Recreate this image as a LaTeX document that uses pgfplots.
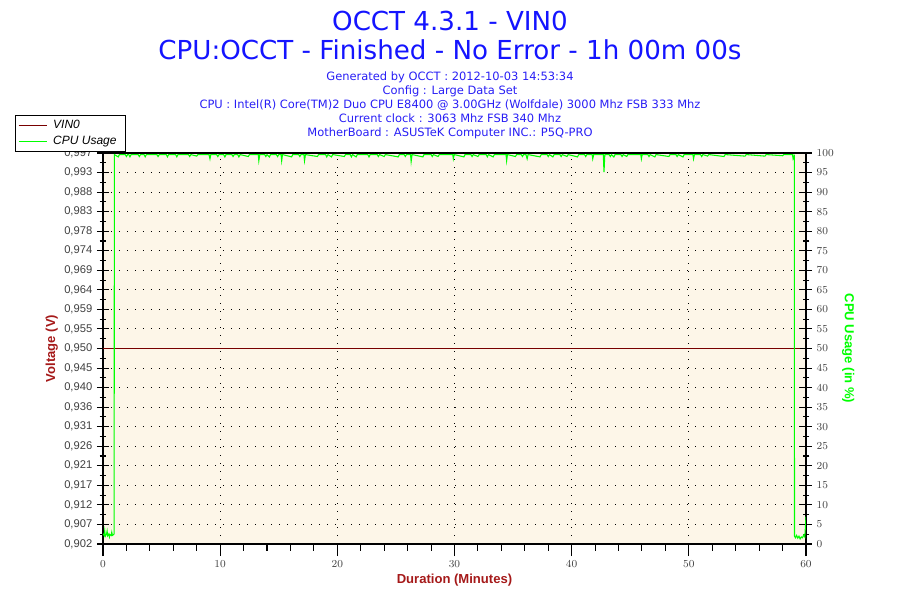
\documentclass[border=0pt]{standalone}
\usepackage{fontspec}
\setmainfont{DejaVu Sans}
\newfontfamily\tickfont{Liberation Sans}
\usepackage{pgfplots}
\pgfplotsset{compat=1.18}

\definecolor{ttl}{RGB}{20,20,255}
\definecolor{info}{RGB}{40,30,245}
\definecolor{volt}{RGB}{120,0,0}
\definecolor{vlab}{RGB}{165,25,25}
\definecolor{cpu}{RGB}{0,255,0}
\definecolor{bg}{RGB}{253,246,232}

\begin{document}
\begin{tikzpicture}
\path[use as bounding box] (-77.25pt,-42pt) rectangle (597.75pt,408pt);

% voltage axis (left)
\begin{axis}[
  scale only axis, width=527.25pt, height=293.25pt,
  at={(0pt,0pt)}, anchor=south west,
  xmin=0, xmax=60,
  ymin=0.9025, ymax=0.9975,
  axis background/.style={fill=bg},
  axis line style={black, line width=0.8pt},
  xtick={0,10,20,30,40,50,60}, minor x tick num=4,
  ytick={0.9025,0.90725,0.912,0.91675,0.9215,0.92625,0.931,0.93575,0.9405,0.94525,0.95,0.95475,0.9595,0.96425,0.969,0.97375,0.9785,0.98325,0.988,0.99275,0.9975},
  yticklabels={{0,902},{0,907},{0,912},{0,917},{0,921},{0,926},{0,931},{0,936},{0,940},{0,945},{0,950},{0,955},{0,959},{0,964},{0,969},{0,974},{0,978},{0,983},{0,988},{0,993},{0,997}},
  minor y tick num=1,
  xtick pos=bottom, ytick pos=left,
  xtick align=outside, ytick align=center,
  major tick length=9pt, minor tick length=5pt,
  tick style={black, line width=0.8pt},
  grid=major,
  major grid style={black, line width=0.75pt, dash pattern=on 0.75pt off 5.25pt},
  ticklabel style={font=\tickfont\fontsize{8.4}{9}\selectfont, text=black!75},
  xlabel={Duration (Minutes)},
  ylabel={Voltage (V)},
  xlabel style={at={(axis description cs:0.5,-0.092)}, anchor=center,
    font=\tickfont\bfseries\fontsize{9.8}{11}\selectfont, text=vlab},
  ylabel style={at={(axis description cs:-0.073,0.5)}, anchor=center,
    font=\tickfont\bfseries\fontsize{9.8}{11}\selectfont, text=vlab},
]
\addplot[volt, line width=0.75pt] coordinates {(0,0.950) (60,0.950)};
\end{axis}

% CPU usage axis (right)
\begin{axis}[
  scale only axis, width=527.25pt, height=293.25pt,
  at={(0pt,0pt)}, anchor=south west,
  xmin=0, xmax=60, ymin=0, ymax=100,
  axis x line=none, axis y line*=right,
  axis line style={black, line width=0.8pt},
  ytick={0,5,...,100}, minor y tick num=1,
  ytick align=center,
  major tick length=9pt, minor tick length=5pt,
  tick style={black, line width=0.8pt},
  yticklabel style={font=\tickfont\fontsize{8.4}{9}\selectfont, text=black!75},
  ylabel={CPU Usage (in \%)},
  ylabel style={at={(axis description cs:1.06,0.5)}, anchor=center, rotate=180,
    font=\tickfont\bfseries\fontsize{9.8}{11}\selectfont, text=cpu},
  legend style={at={(axis description cs:-0.1252,1.0972)}, anchor=north west,
    draw=black, line width=0.8pt, fill=white,
    font=\tickfont\itshape\fontsize{9}{10}\selectfont,
    inner xsep=2pt, inner ysep=1.5pt, row sep=0.5pt,
    nodes={inner xsep=4.5pt}},
  legend cell align=left,
  legend image code/.code={\draw[#1, line width=0.75pt] (0pt,0pt) -- (21pt,0pt);},
]
\addlegendimage{volt}
\addlegendentry{VIN0}
\addplot[cpu, line width=0.8pt] coordinates {
(0,2.6)(0.1,2.2)(0.15,3.4)(0.2,2.0)(0.3,2.5)(0.35,3.3)(0.4,2.1)(0.5,2.6)(0.55,1.8)(0.6,2.4)(0.7,2.2)(0.75,3.0)(0.8,2.2)(0.9,2.4)(0.95,2.6)
(0.97,99.6)(1.3,99.0)(1.4,99.6)(1.9,99.6)(2.0,99.1)(2.1,99.6)(2.2,99.6)(2.3,99.0)(2.4,99.6)(3.0,99.6)(3.1,99.1)(3.2,99.6)(3.5,99.6)(3.6,99.0)(3.7,99.6)(4.6,99.6)(4.7,99.1)(4.8,99.6)
(5.4,99.6)(5.5,99.0)(5.6,99.6)(6.2,99.6)(6.3,99.0)(6.4,99.6)(7.3,99.6)(7.4,99.1)(7.5,99.6)(8.0,99.2)(8.1,99.6)(9.05,99.6)(9.13,98.5)(9.2,99.6)
(9.7,99.6)(9.8,99.1)(9.9,99.6)(10.3,99.6)(10.4,99.0)(10.5,99.6)(11.0,99.6)(11.1,99.1)(11.2,99.6)(11.5,99.6)(11.6,99.0)(11.7,99.6)(12.4,99.1)(12.5,99.6)(13.25,99.6)(13.3,98.0)(13.38,99.6)
(13.8,99.6)(13.9,99.1)(14.0,99.6)(14.2,99.0)(14.3,99.6)(14.8,99.6)(14.9,99.1)(15.0,99.6)(15.2,99.6)(15.25,98.0)(15.32,99.6)(16.1,99.0)(16.2,99.6)(16.7,99.6)(16.8,99.1)(16.9,99.6)(17.15,99.6)(17.2,98.0)(17.28,99.6)
(18.3,99.1)(18.4,99.6)(19.0,99.6)(19.1,99.0)(19.2,99.6)(19.5,99.0)(19.6,99.6)(20.6,99.1)(20.7,99.6)(21.1,99.6)(21.2,99.0)(21.3,99.6)(21.6,99.0)(21.7,99.6)(22.6,99.6)(22.7,99.0)(22.8,99.6)
(23.4,99.6)(23.5,99.1)(23.6,99.6)(24.0,99.1)(24.1,99.6)(25.2,99.0)(25.3,99.6)(25.7,99.6)(25.8,99.1)(25.9,99.6)(26.25,99.6)(26.3,97.8)(26.38,99.6)(27.3,99.0)(27.4,99.6)(28.0,99.6)(28.1,99.1)(28.2,99.6)(28.6,99.1)(28.7,99.6)
(29.85,99.6)(29.9,98.5)(29.98,99.6)(30.8,99.0)(30.9,99.6)(31.4,99.6)(31.5,99.1)(31.6,99.6)(32.0,99.1)(32.1,99.6)(32.7,99.6)(32.8,99.0)(32.9,99.6)(33.3,99.0)(33.4,99.6)
(34.4,99.6)(34.45,98.0)(34.52,99.6)(35.2,99.1)(35.3,99.6)(35.7,99.6)(35.8,99.1)(35.9,99.6)(36.1,99.6)(36.2,98.5)(36.28,99.6)(37.3,99.0)(37.4,99.6)(37.9,99.6)(38.0,99.1)(38.1,99.6)
(38.4,99.0)(38.5,99.6)(39.0,99.6)(39.1,99.1)(39.2,99.6)(39.6,99.1)(39.7,99.6)(40.5,99.0)(40.6,99.6)(41.1,99.6)(41.2,99.1)(41.3,99.6)(41.75,99.6)(41.8,98.5)(41.88,99.6)
(42.7,99.6)(42.76,95.1)(42.83,99.6)(43.2,99.6)(43.3,99.1)(43.4,99.6)(43.6,99.0)(43.7,99.6)(44.2,99.6)(44.3,99.1)(44.4,99.6)(44.7,99.1)(44.8,99.6)(45.9,99.6)(45.95,98.5)(46.02,99.6)
(46.5,99.6)(46.6,99.1)(46.7,99.6)(47.1,99.0)(47.2,99.6)(48.3,99.1)(48.4,99.6)(48.9,99.6)(49.0,99.1)(49.1,99.6)(49.5,99.0)(49.6,99.6)(50.35,99.6)(50.4,98.5)(50.48,99.6)
(51.0,99.6)(51.1,99.1)(51.2,99.6)(51.6,99.2)(51.7,99.6)(53.0,99.1)(53.1,99.6)(54.8,99.2)(54.9,99.6)(56.5,99.2)(56.6,99.6)(58.0,99.3)(58.1,99.6)
(58.85,99.6)(58.9,98.5)(58.97,99.0)(59.0,99.6)
(59.02,2.0)(59.1,1.6)(59.2,2.2)(59.3,1.5)(59.4,2.0)(59.5,1.3)(59.6,1.8)(59.7,1.6)(59.8,2.3)(59.9,1.8)(60,7)
};
\addlegendentry{CPU Usage}
\end{axis}

% titles
\node[anchor=base, text=ttl, font=\fontsize{19.6}{22}\selectfont] at (260.25pt,384.8pt) {OCCT 4.3.1 - VIN0};
\node[anchor=base, text=ttl, font=\fontsize{19.6}{22}\selectfont] at (260.25pt,363.3pt) {CPU:OCCT - Finished - No Error - 1h 00m 00s};
\node[anchor=base, text=info, font=\fontsize{8.6}{10}\selectfont] at (260.25pt,347.6pt) {Generated by OCCT : 2012-10-03 14:53:34};
\node[anchor=base, text=info, font=\fontsize{8.6}{10}\selectfont] at (260.25pt,336.75pt) {Config : Large Data Set};
\node[anchor=base, text=info, font=\fontsize{8.6}{10}\selectfont] at (260.25pt,326.25pt) {CPU : Intel(R) Core(TM)2 Duo CPU E8400 @ 3.00GHz (Wolfdale) 3000 Mhz FSB 333 Mhz};
\node[anchor=base, text=info, font=\fontsize{8.6}{10}\selectfont] at (260.25pt,316pt) {Current clock : 3063 Mhz FSB 340 Mhz};
\node[anchor=base, text=info, font=\fontsize{8.6}{10}\selectfont] at (260.25pt,305.6pt) {MotherBoard : ASUSTeK Computer INC.: P5Q-PRO};
\end{tikzpicture}
\end{document}
